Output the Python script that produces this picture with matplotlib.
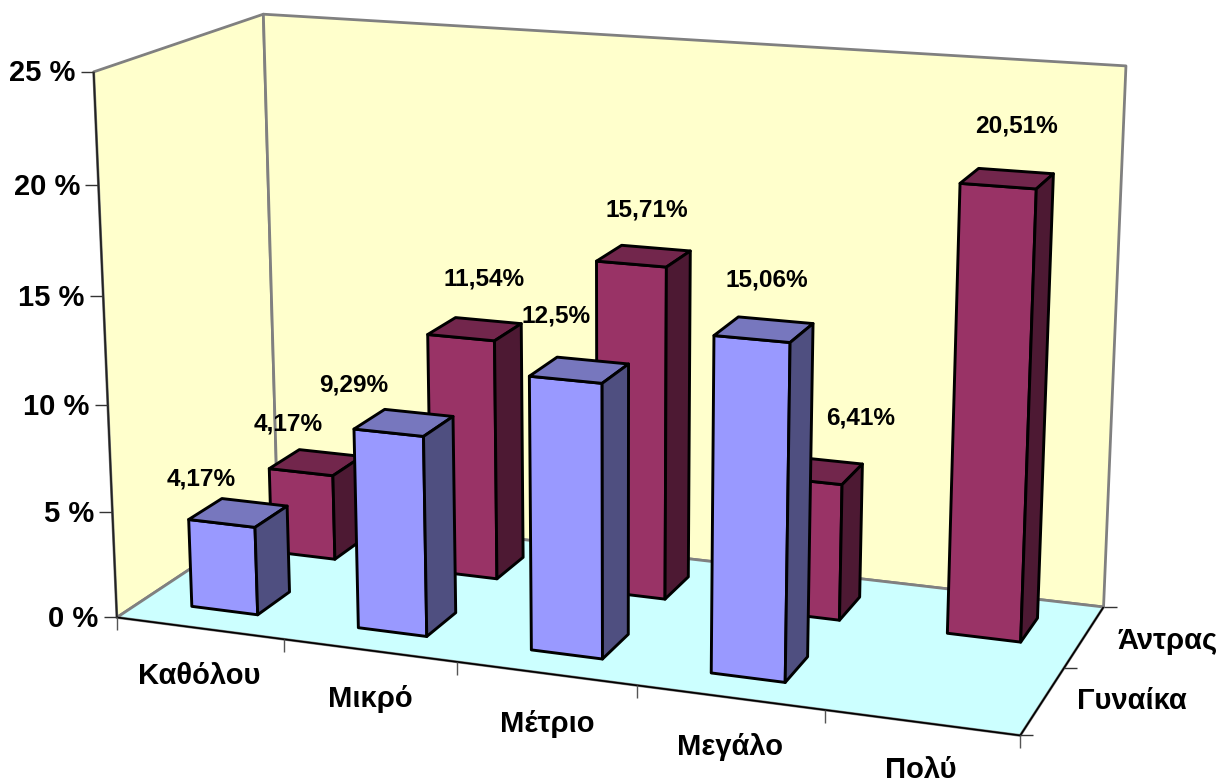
import matplotlib
matplotlib.use('Agg')
import matplotlib.pyplot as plt
from matplotlib.patches import Polygon
import numpy as np

plt.rcParams['font.family'] = ['Liberation Sans', 'DejaVu Sans']

categories = ['Καθόλου', 'Μικρό', 'Μέτριο', 'Μεγάλο', 'Πολύ']
series_names = ['Γυναίκα', 'Άντρας']
women = [4.17, 9.29, 12.5, 15.06, 0]
men = [4.17, 11.54, 15.71, 6.41, 20.51]
women_labels = ['4,17%', '9,29%', '12,5%', '15,06%', None]
men_labels = ['4,17%', '11,54%', '15,71%', '6,41%', '20,51%']
y_ticks = [0, 5, 10, 15, 20, 25]
y_tick_labels = ['0 %', '5 %', '10 %', '15 %', '20 %', '25 %']
Z_MAX = 25

# value label centres in figure pixels
women_label_pos = [(201, 479), (354, 385), (556, 316), (767, 280), None]
men_label_pos = [(288, 424), (484, 279), (647, 210), (861, 418), (1016, 126)]
cat_label_pos = [(199, 676), (370, 699), (547, 724), (730, 747), (921, 770)]
series_label_pos = [(1132, 701), (1168, 641)]

YELLOW = '#FFFFCC'
FLOOR = '#CCFFFF'
GREY = '#808080'
WOMEN_COLS = ('#9999FF', '#7777BE', '#4F4F80')
MEN_COLS = ('#993366', '#72264C', '#4D1933')

# perspective camera, solved from where the box corners land on the canvas
box_world = [(0, 0, 0), (5, 0, 0), (5, 2, 0), (0, 2, 0), (0, 0, Z_MAX), (0, 2, Z_MAX), (5, 2, Z_MAX),
             (1, 0, 0), (2, 0, 0), (3, 0, 0), (4, 0, 0), (5, 1, 0)]
box_pix = [(117, 617), (1020, 735), (1103, 607), (278, 511), (94, 72), (263, 14), (1126, 66),
           (283, 640), (457, 662), (637, 685), (825, 710), (1065, 668)]
rows = []
for (x, s, z), (u, v) in zip(box_world, box_pix):
    rows.append([x, s, z, 1, 0, 0, 0, 0, -u * x, -u * s, -u * z, -u])
    rows.append([0, 0, 0, 0, x, s, z, 1, -v * x, -v * s, -v * z, -v])
P = np.linalg.svd(np.array(rows, float))[2][-1].reshape(3, 4)


def proj(x, s, z):
    w = P @ np.array([x, s, z, 1.0])
    return w[0] / w[2], w[1] / w[2]


def face(ax, pts, color, edge='black', lw=2.1, zorder=2):
    ax.add_patch(Polygon([proj(*p) for p in pts], closed=True, facecolor=color,
                         edgecolor=edge, linewidth=lw, joinstyle='round', zorder=zorder))


def line(ax, a, b, color='black', lw=1.0, zorder=3):
    ax.plot([a[0], b[0]], [a[1], b[1]], color=color, lw=lw, zorder=zorder, solid_capstyle='butt')


def bar(ax, cat, row, value, cols, width=0.4):
    x0 = cat + (1 - width) / 2
    x1 = x0 + width
    s0 = row + (1 - width) / 2
    s1 = s0 + width
    face(ax, [(x0, s0, 0), (x1, s0, 0), (x1, s0, value), (x0, s0, value)], cols[0])
    face(ax, [(x0, s0, value), (x1, s0, value), (x1, s1, value), (x0, s1, value)], cols[1])
    face(ax, [(x1, s0, 0), (x1, s1, 0), (x1, s1, value), (x1, s0, value)], cols[2])


fig = plt.figure(figsize=(12.23, 7.83), dpi=100)
ax = fig.add_axes([0, 0, 1, 1])
ax.set_xlim(0, 1223)
ax.set_ylim(783, 0)
ax.axis('off')

n = len(categories)
# walls and floor
face(ax, [(0, 0, 0), (0, 2, 0), (0, 2, Z_MAX), (0, 0, Z_MAX)], YELLOW, edge=GREY, lw=2.0, zorder=1)
face(ax, [(0, 2, 0), (n, 2, 0), (n, 2, Z_MAX), (0, 2, Z_MAX)], YELLOW, edge=GREY, lw=2.0, zorder=1)
face(ax, [(0, 0, 0), (n, 0, 0), (n, 2, 0), (0, 2, 0)], FLOOR, edge=GREY, lw=2.0, zorder=1)

# axis lines
line(ax, proj(0, 0, 0), proj(0, 0, Z_MAX), color='#222222', lw=1.3)
line(ax, proj(0, 0, 0), proj(n, 0, 0), lw=1.2)
line(ax, proj(n, 0, 0), proj(n, 2, 0), lw=1.2)

# value axis ticks and labels
for t, lab in zip(y_ticks, y_tick_labels):
    px, py = proj(0, 0, t)
    line(ax, (px - 13, py), (px, py), color='#333333')
    ax.text(px - 18.5, py + 1.5, lab, ha='right', va='center', fontsize=21, fontweight='bold', zorder=6)

# category and series ticks
for i in range(n + 1):
    px, py = proj(i, 0, 0)
    line(ax, (px, py), (px, py + 13), color='#555555')
for j in range(3):
    px, py = proj(n, j, 0)
    line(ax, (px, py), (px + 13, py), color='#333333')

for lab, (px, py) in zip(categories, cat_label_pos):
    ax.text(px, py, lab, ha='center', va='center', fontsize=21, fontweight='bold', zorder=6)
for lab, (px, py) in zip(series_names, series_label_pos):
    ax.text(px, py, lab, ha='center', va='center', fontsize=21, fontweight='bold', zorder=6)

# back row first so the front row overlaps it
for i, v in enumerate(men):
    bar(ax, i, 1, v, MEN_COLS)
for i, v in enumerate(women):
    if v > 0:
        bar(ax, i, 0, v, WOMEN_COLS)

for labels, positions in [(men_labels, men_label_pos), (women_labels, women_label_pos)]:
    for lab, pos in zip(labels, positions):
        if lab is not None:
            ax.text(pos[0], pos[1], lab, ha='center', va='center', fontsize=17.6,
                    fontweight='bold', zorder=7)

fig.savefig('out.png', dpi=100)
